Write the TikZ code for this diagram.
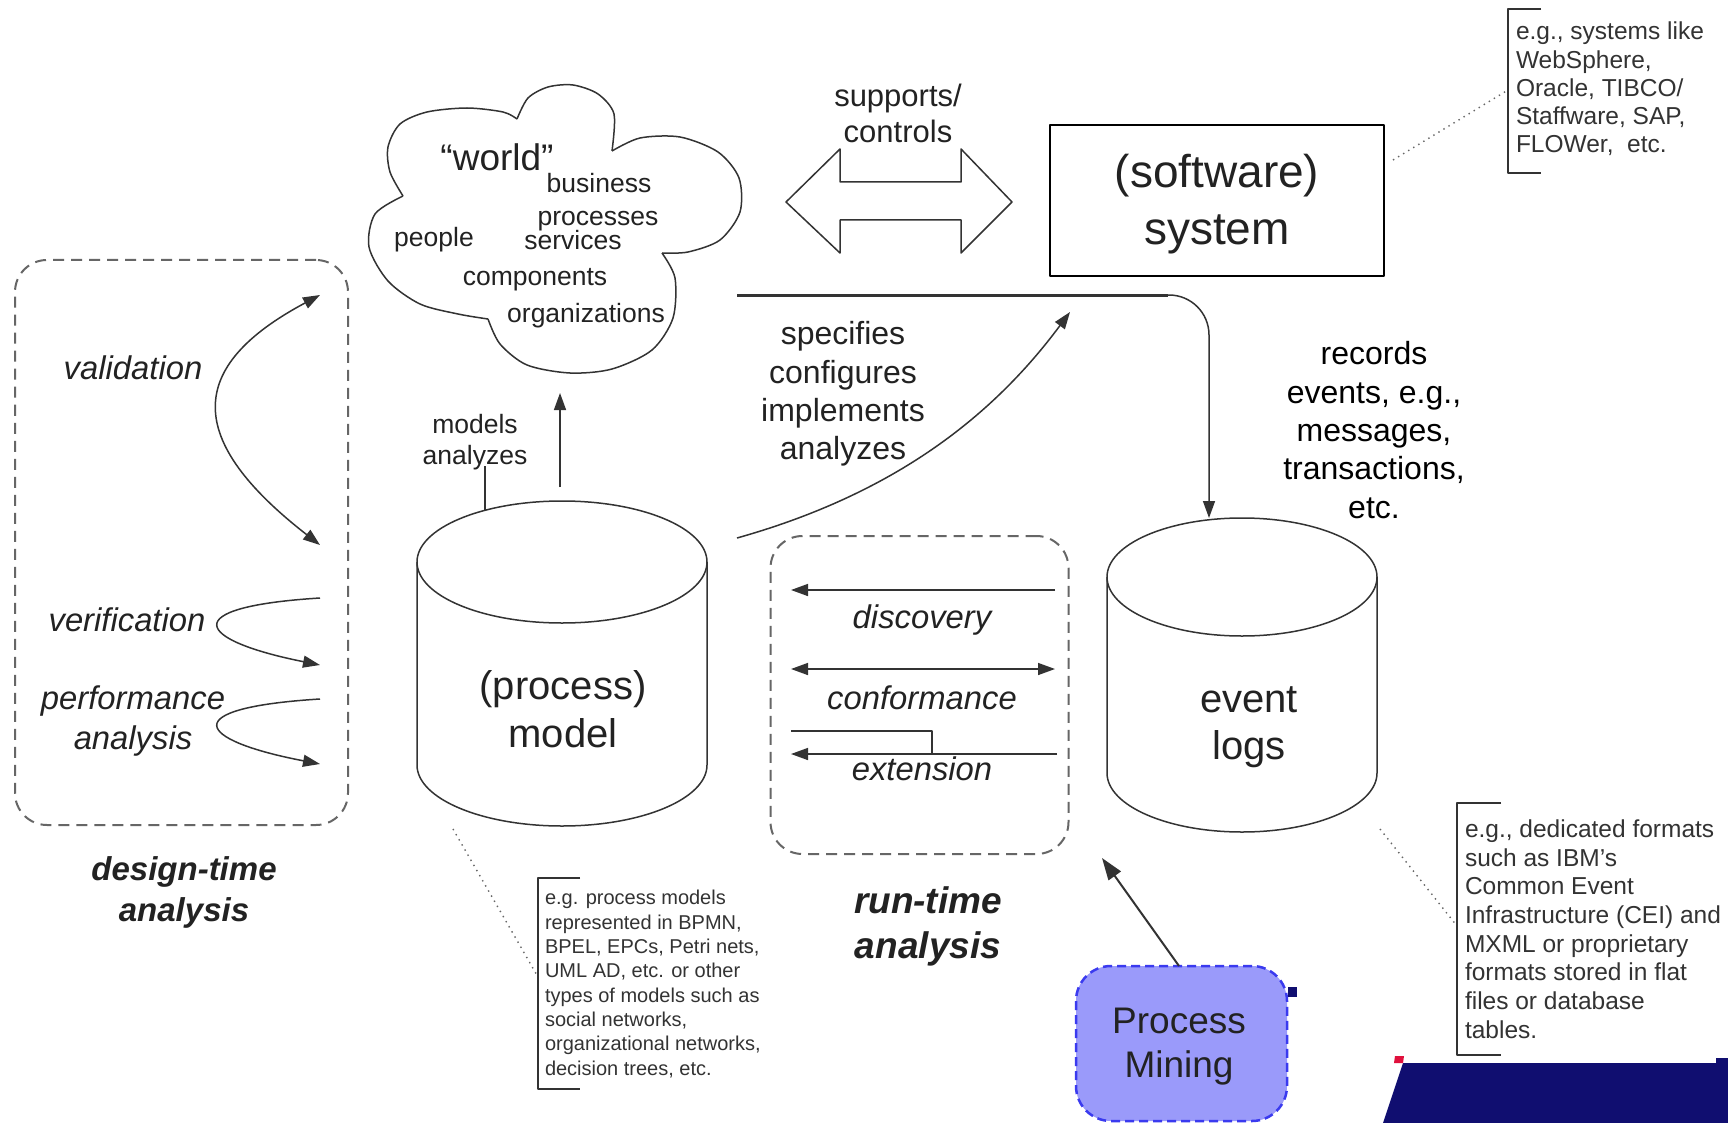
\documentclass[tikz,border=0pt]{standalone}
\usepackage{fontspec}
\setmainfont{Liberation Sans}
\usetikzlibrary{arrows.meta}
\definecolor{txt}{HTML}{222222}
\definecolor{notetxt}{HTML}{333333}
\definecolor{lng}{HTML}{333333}
\definecolor{dg}{HTML}{666666}
\definecolor{pmf}{HTML}{9A9AFA}
\definecolor{pmb}{HTML}{3A3AEF}
\definecolor{navy}{RGB}{16,14,112}
\definecolor{redm}{HTML}{E0103C}
\newcommand\myfs[2]{\fontsize{#1}{#2}\selectfont}
\begin{document}
\begin{tikzpicture}[x=1pt,y=-1pt,line join=round,
  every node/.style={inner sep=0pt,outer sep=0pt,text=txt,align=center},
  ln/.style={draw=lng,line width=1.5pt},
  tip/.style={-{Triangle[length=17pt,width=12pt]}},
  dbl/.style={{Triangle[length=17pt,width=12pt]}-{Triangle[length=17pt,width=12pt]}},
  dashbox/.style={draw=dg,line width=2pt,dash pattern=on 11pt off 7pt,rounded corners=32pt},
  note/.style={align=left,anchor=west,text=notetxt},
  dots/.style={draw=dg,line width=1.4pt,dash pattern=on 1.4pt off 4.5pt},
  brk/.style={draw=lng,line width=1.8pt},
  cw/.style={font=\myfs{26.5}{30}},
  mid/.style={font=\myfs{32}{38.3}},
  it/.style={font=\myfs{32.8}{40}\itshape},
  big/.style={font=\myfs{40}{47.5}}]
\fill[white] (0,0) rectangle (1728,1123);
\useasboundingbox (0,0) rectangle (1728,1123);

% ---------- cloud ----------
\draw[ln] plot[smooth] coordinates {(403,196) (390,172) (388,147) (400,124) (427,112) (467,108) (503,112) (517,119)};
\draw[ln] plot[smooth] coordinates {(517,119) (528,98) (548,87) (573,85) (598,94) (614,114) (612,151)};
\draw[ln] plot[smooth] coordinates {(612,151) (640,138) (680,137) (718,152) (739,178) (740,212) (720,240) (688,252) (662,253)};
\draw[ln] plot[smooth] coordinates {(662,253) (675,278) (673,318) (652,350) (612,369) (570,373) (527,365) (500,344) (488,319)};
\draw[ln] plot[smooth] coordinates {(488,319) (458,314) (420,304) (388,281) (369,247) (375,214) (403,196)};
\node[font=\myfs{37}{44}] (world) at (497,157) {“world”};
\node[cw] (busi) at (599,183) {business};
\node[cw] (proc) at (598,221) {processes};
\node[cw] (peop) at (434,240) {people};
\node[cw] (serv) at (573,240) {services};
\node[cw] (comp) at (535,280) {components};
\node[cw] (orgs) at (586,316) {organizations};

% ---------- supports / controls ----------
\node[font=\myfs{31}{36}] (supp) at (898,113) {supports/\\controls};
\draw[lng,line width=1.5pt,fill=white] (786,202) -- (840,149) -- (840,182) -- (961,182) -- (961,149)
  -- (1012,202) -- (961,253) -- (961,220) -- (840,220) -- (840,253) -- cycle;

% ---------- software system ----------
\node[draw=black,line width=2pt,minimum width=334pt,minimum height=151pt] (sw) at (1217,200.5) {};
\node[font=\myfs{46}{57}] (swt) at (1217,204.5) {(software)\\system};

% ---------- top right note ----------
\draw[brk] (1541,9) -- (1508,9) -- (1508,173) -- (1541,173);
\node[note,font=\myfs{24.5}{28.3}] (n1) at (1516,89) {e.g., systems like\\WebSphere,\\Oracle, TIBCO/\\Staffware, SAP,\\FLOWer,~~etc.};
\coordinate (swd) at (1393,160);
\coordinate (n1b) at (1508,90);
\draw[dots] (swd) -- (n1b);

% ---------- design-time ----------
\node[dashbox,minimum width=333pt,minimum height=565pt] (dt) at (181.5,542.5) {};
\node[it] (val) at (133,368) {validation};
\node[it] (ver) at (127,620) {verification};
\node[it] (perf) at (133,721) {performance\\analysis};
\coordinate (va) at (320,295); \coordinate (vb) at (320,545);
\draw[ln,dbl] (va) .. controls (185,367) and (185,440) .. (vb);
\coordinate (vea) at (320,598); \coordinate (veb) at (320,665);
\draw[ln,tip] (vea) .. controls (175,607) and (195,640) .. (veb);
\coordinate (pea) at (320,699); \coordinate (peb) at (320,764);
\draw[ln,tip] (pea) .. controls (175,708) and (195,740) .. (peb);
\node[font=\myfs{33}{41}\bfseries\itshape] (dtl) at (184,892) {design-time\\analysis};

% ---------- process model cylinder ----------
\draw[ln,fill=white] (417,562) -- (417,765) arc[start angle=180,end angle=360,x radius=145pt,y radius=61pt] -- (707,562);
\draw[ln] (562,562) ellipse [x radius=145pt,y radius=61pt];
\node[big] (pm) at (563,709) {(process)\\model};
\node[font=\myfs{26.5}{31}] (mod) at (475,442) {models\\analyzes};
\coordinate (pmA) at (560,487); \coordinate (clB) at (560,393);
\draw[ln,tip] (pmA) -- (clB);
\coordinate (tkA) at (485,466); \coordinate (tkB) at (485,510);
\draw[ln] (tkA) -- (tkB);

% ---------- bottom-mid note ----------
\draw[brk] (580,878) -- (538,878) -- (538,1089) -- (580,1089);
\node[note,font=\myfs{20}{24.3}] (n2) at (545,984) {e.g. process models\\represented in BPMN,\\BPEL, EPCs, Petri nets,\\UML AD, etc. or other\\types of models such as\\social networks,\\organizational networks,\\decision trees, etc.};
\coordinate (pmd) at (453,829); \coordinate (n2b) at (538,977);
\draw[dots] (pmd) -- (n2b);

% ---------- top line to event logs ----------
\coordinate (tl1) at (737,295); \coordinate (tl2) at (1168,295);
\draw[draw=lng,line width=3pt] (tl1) -- (tl2);
\coordinate (tl3) at (1209,295); \coordinate (elA) at (1209,518);
\draw[ln,tip,rounded corners=40pt] (1160,295) -- (tl3) -- (elA);

% ---------- specifies curve ----------
\node[mid] (spec) at (843,394) {specifies\\configures\\implements\\analyzes};
\coordinate (spA) at (737,538); \coordinate (spB) at (1070,312);
\draw[ln,tip] (spA) .. controls (890,495) and (990,420) .. (spB);

% ---------- records ----------
\node[mid,text=black] (rec) at (1374,430) {records\\events, e.g.,\\messages,\\transactions,\\etc.};

% ---------- event logs cylinder ----------
\draw[ln,fill=white] (1107,577) -- (1107,773) arc[start angle=180,end angle=360,x radius=135pt,y radius=59pt] -- (1377,577);
\draw[ln] (1242,577) ellipse [x radius=135pt,y radius=59pt];
\node[big] (el) at (1249,727) {event\\logs};

% ---------- right note ----------
\draw[brk] (1501,803) -- (1457,803) -- (1457,1055) -- (1501,1055);
\node[note,font=\myfs{24.5}{28.7}] (n3) at (1465,929) {e.g., dedicated formats\\such as IBM’s\\Common Event\\Infrastructure (CEI) and\\MXML or proprietary\\formats stored in flat\\files or database\\tables.};
\coordinate (eld) at (1380,829); \coordinate (n3b) at (1457,926);
\draw[dots] (eld) -- (n3b);

% ---------- run-time ----------
\node[dashbox,minimum width=298pt,minimum height=318pt] (rt) at (919.5,695) {};
\coordinate (dR) at (1055,590); \coordinate (dL) at (791,590);
\draw[ln,tip] (dR) -- (dL);
\node[it] (disc) at (922,620) {discovery};
\coordinate (cL) at (791,669); \coordinate (cR) at (1055,669);
\draw[ln,dbl] (cL) -- (cR);
\node[it] (conf) at (922,698) {conformance};
\coordinate (xA) at (791,731); \coordinate (xB) at (932,731); \coordinate (xC) at (932,754);
\draw[ln] (xA) -- (xB) -- (xC);
\coordinate (xR) at (1057,754); \coordinate (xL) at (791,754);
\draw[ln,tip] (xR) -- (xL);
\node[it] (ext) at (922,769) {extension};
\node[font=\myfs{37}{45}\bfseries\itshape] (rtl) at (928,926) {run-time\\analysis};

% ---------- process mining ----------
\node[draw=pmb,fill=pmf,line width=2.5pt,dash pattern=on 9pt off 5pt,rounded corners=35pt,
  minimum width=211pt,minimum height=155pt] (pmine) at (1181.5,1043.5) {};
\node[font=\myfs{37}{44}] (pmt) at (1179,1047) {Process\\Mining};
\fill[navy] (1288,987) rectangle (1297,997);
\coordinate (pmT) at (1179,966); \coordinate (rtB) at (1102,858);
\draw[draw=lng,line width=2pt,-{Triangle[length=22pt,width=15pt]}] (pmT) -- (rtB);

% ---------- corner decoration ----------
\fill[navy] (1403,1063) -- (1728,1063) -- (1728,1123) -- (1383,1123) -- cycle;
\fill[redm] (1395,1056) -- (1404,1056) -- (1403,1063) -- (1394,1063) -- cycle;
\fill[navy] (1716,1058) rectangle (1728,1063);
\end{tikzpicture}
\end{document}
